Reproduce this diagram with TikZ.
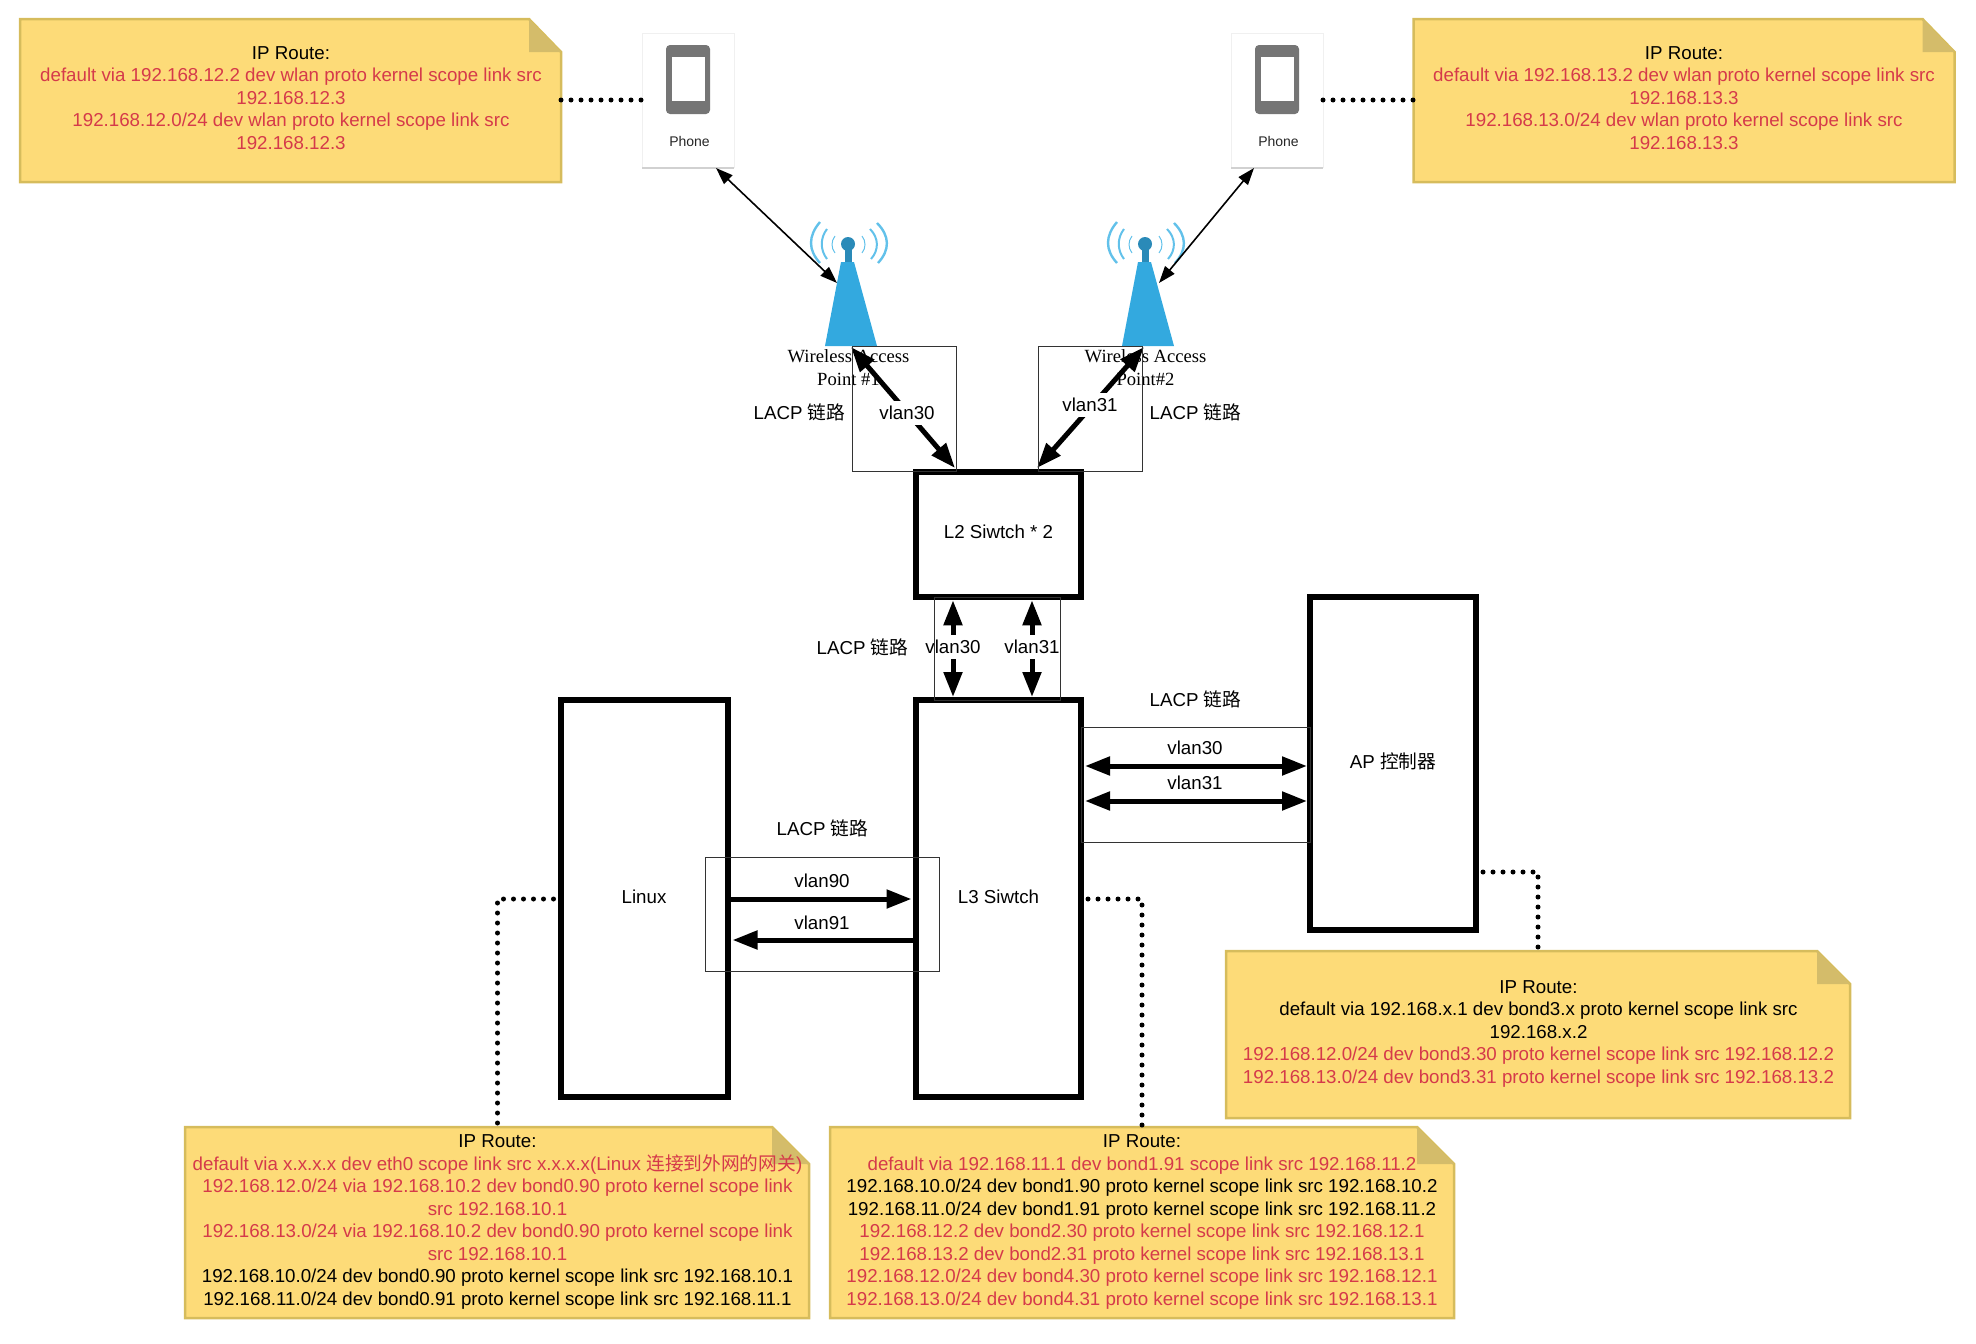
\documentclass[tikz,border=0pt]{standalone}
\usepackage{fontspec}
\setmainfont{Liberation Sans}
\newfontfamily\cjk{Noto Sans CJK SC}
\newfontfamily\serifl{Liberation Serif}
\usetikzlibrary{arrows.meta,calc,backgrounds}
\definecolor{notefill}{HTML}{FDDB78}
\definecolor{noteline}{HTML}{D6BC5C}
\definecolor{foldfill}{HTML}{D4BC6A}
\definecolor{notered}{HTML}{D53A4A}
\definecolor{towerblue}{HTML}{33A9DF}
\definecolor{towerdark}{HTML}{2A8AB8}
\definecolor{wavelight}{HTML}{62C1EA}
\definecolor{icongray}{HTML}{757575}
\newcommand{\rl}[1]{\textcolor{notered}{#1}}
\newcommand{\notebg}[3]{%
  \draw[line width=2.5pt,draw=noteline,fill=notefill,line join=miter]
    (#1.north west) -- ($(#1.north east)+(-#2,0)$) -- ($(#1.north east)+(0,#3)$)
    -- (#1.south east) -- (#1.south west) -- cycle;
  \fill[foldfill] ($(#1.north east)+(-#2,0)$) -- ($(#1.north east)+(-#2,#3)$) -- ($(#1.north east)+(0,#3)$) -- cycle;}
\newcommand{\phoneicon}[1]{%
  \draw[black!18,line width=1.4pt] ($(#1.south west)+(0,0.8)$) -- ($(#1.south east)+(0,0.8)$);
  \fill[icongray,rounded corners=4pt] ($(#1.center)+(-22,-55)$) rectangle ($(#1.center)+(22,14)$);
  \fill[white] ($(#1.center)+(-16,-43)$) rectangle ($(#1.center)+(17,1)$);}
\newcommand{\towerart}{%
  \fill[towerblue] (825,346) -- (841,262) -- (854,262) -- (877,346) -- cycle;
  \fill[towerdark] (845,262) -- (845,247) -- (852,247) -- (852,262) -- cycle;
  \fill[towerdark] (848,244) circle[radius=7];
  \draw[wavelight,line width=2.4pt] (820,222) .. controls (808,236) and (808,250) .. (820,263);
  \draw[wavelight,line width=2pt] (827,229) .. controls (820,238) and (820,250) .. (827,259);
  \draw[wavelight,line width=1pt] (835,236) .. controls (831,241) and (831,248) .. (835,253);
  \draw[wavelight,line width=2.4pt] (877,223) .. controls (890,236) and (890,250) .. (878,263);
  \draw[wavelight,line width=2pt] (870,229) .. controls (879,238) and (879,250) .. (871,259);
  \draw[wavelight,line width=1pt] (862,236) .. controls (866,241) and (866,248) .. (862,253);}
\tikzset{
  x=1pt,y=-1pt,
  every node/.style={inner sep=0pt,outer sep=0pt},
  txt/.style={font=\fontsize{18.72}{22.5}\selectfont,align=center},
  bigbox/.style={draw=black,line width=6pt,txt,line join=miter},
  thinbox/.style={draw=black!80,line width=1pt},
  notebox/.style={},
  notetext/.style={txt},
  phonebox/.style={draw=black!6,line width=1pt,fill=white,minimum width=92pt,minimum height=134pt},
  phonelabel/.style={font=\fontsize{14}{16}\selectfont,text=black!85},
  aplabel/.style={font=\serifl\fontsize{18.6}{22.7}\selectfont,align=center},
  vlanlabel/.style={txt,fill=white,minimum height=24pt},
  plainlabel/.style={txt},
  thickarrow/.style={line width=5pt,{Triangle[length=25pt,width=18pt]}-{Triangle[length=25pt,width=18pt]}},
  oneway/.style={line width=5pt,-{Triangle[length=25pt,width=18pt]}},
  thinarrow/.style={line width=1.6pt,{Triangle[length=17pt,width=12pt]}-{Triangle[length=17pt,width=12pt]}},
  dotline/.style={line width=5pt,line cap=round,dash pattern=on 0pt off 10pt},
  dotbox/.style={dotline,dash phase=3pt},
}
\begin{document}
\begin{tikzpicture}
\useasboundingbox (0,0) rectangle (1976,1344);

% notes
\node[notebox,minimum width=541pt,minimum height=163pt] (n1) at (290.5,100.5) {};
\notebg{n1}{32}{33}
\node[notetext] (n1t) at (291,98) {IP Route:\\ \rl{default via 192.168.12.2 dev wlan proto kernel scope link src}\\ \rl{192.168.12.3}\\ \rl{192.168.12.0/24 dev wlan proto kernel scope link src}\\ \rl{192.168.12.3}};
\node[notebox,minimum width=541pt,minimum height=163pt] (n2) at (1684,100.5) {};
\notebg{n2}{32}{33}
\node[notetext] (n2t) at (1684,98) {IP Route:\\ \rl{default via 192.168.13.2 dev wlan proto kernel scope link src}\\ \rl{192.168.13.3}\\ \rl{192.168.13.0/24 dev wlan proto kernel scope link src}\\ \rl{192.168.13.3}};
\node[notebox,minimum width=624pt,minimum height=191pt] (n3) at (497,1222.5) {};
\notebg{n3}{37}{37}
\node[notetext] (n3t) at (497.5,1222) {IP Route:\\ \rl{default via x.x.x.x dev eth0 scope link src x.x.x.x(Linux {\cjk 连接到外网的网关})}\\ \rl{192.168.12.0/24 via 192.168.10.2 dev bond0.90 proto kernel scope link}\\ \rl{src 192.168.10.1}\\ \rl{192.168.13.0/24 via 192.168.10.2 dev bond0.90 proto kernel scope link}\\ \rl{src 192.168.10.1}\\ 192.168.10.0/24 dev bond0.90 proto kernel scope link src 192.168.10.1\\ 192.168.11.0/24 dev bond0.91 proto kernel scope link src 192.168.11.1};
\node[notebox,minimum width=624pt,minimum height=191pt] (n4) at (1142,1222.5) {};
\notebg{n4}{37}{37}
\node[notetext] (n4t) at (1142,1222) {IP Route:\\ \rl{default via 192.168.11.1 dev bond1.91 scope link src 192.168.11.2}\\ 192.168.10.0/24 dev bond1.90 proto kernel scope link src 192.168.10.2\\ 192.168.11.0/24 dev bond1.91 proto kernel scope link src 192.168.11.2\\ \rl{192.168.12.2 dev bond2.30 proto kernel scope link src 192.168.12.1}\\ \rl{192.168.13.2 dev bond2.31 proto kernel scope link src 192.168.13.1}\\ \rl{192.168.12.0/24 dev bond4.30 proto kernel scope link src 192.168.12.1}\\ \rl{192.168.13.0/24 dev bond4.31 proto kernel scope link src 192.168.13.1}};
\node[notebox,minimum width=624pt,minimum height=167pt] (n5) at (1538,1034.5) {};
\notebg{n5}{33}{33}
\node[notetext] (n5t) at (1538.5,1033.8) {IP Route:\\ default via 192.168.x.1 dev bond3.x proto kernel scope link src\\ 192.168.x.2\\ \rl{192.168.12.0/24 dev bond3.30 proto kernel scope link src 192.168.12.2}\\ \rl{192.168.13.0/24 dev bond3.31 proto kernel scope link src 192.168.13.2}};

% phones
\node[phonebox] (phone1) at (688,100) {};
\phoneicon{phone1}
\node[phonelabel] (phone1t) at (689.5,141.5) {Phone};
\node[phonebox] (phone2) at (1277,100) {};
\phoneicon{phone2}
\node[phonelabel] (phone2t) at (1278.5,141.5) {Phone};

% towers
\towerart
\begin{scope}[shift={(297,0)}]\towerart\end{scope}
\node[aplabel] (ap1) at (848.5,367.3) {Wireless Access\\Point \#1};
\node[aplabel] (ap2) at (1145.5,367.3) {Wireless Access\\Point\#2};

% main boxes
\node[bigbox,minimum width=165pt,minimum height=125.5pt] (l2) at (998.5,534.5) {\raisebox{5pt}{L2 Siwtch * 2}};
\node[bigbox,minimum width=165pt,minimum height=397pt] (l3) at (998.5,898.5) {\raisebox{3.5pt}{L3 Siwtch}};
\node[bigbox,minimum width=167pt,minimum height=397pt] (linux) at (644,898.5) {\raisebox{3.5pt}{Linux}};
\node[bigbox,minimum width=166pt,minimum height=333pt] (apc) at (1393,763.5) {\raisebox{5pt}{AP {\cjk 控制器}}};

% connector end points
\coordinate (ph1s) at (716,168);
\coordinate (ap1n) at (837,283);
\coordinate (ph2s) at (1254,168);
\coordinate (ap2n) at (1159,283);
\coordinate (ap1f) at (851,347);
\coordinate (sw1a) at (955,468);
\coordinate (ap2f) at (1144,347);
\coordinate (sw1b) at (1037,468);
\coordinate (v30x) at (953,650);
\coordinate (v31x) at (1032,650);
\coordinate (ya) at (1195,766);
\coordinate (yb) at (1195,801);
\coordinate (yc) at (822,899);
\coordinate (yd) at (822,940);
\coordinate (dl) at (497.5,899);
\coordinate (dr) at (1142,899);
\coordinate (dp) at (1538,872);

% thin arrows
\draw[thinarrow] (ph1s) -- (ap1n);
\draw[thinarrow] (ph2s) -- (ap2n);

% thick arrows with their labels
\draw[thickarrow] (ap1f) -- (sw1a);
\node[vlanlabel] (lv1) at (907,413) {vlan30};
\draw[thickarrow] (ap2f) -- (sw1b);
\node[vlanlabel] (lv2) at (1090,405) {vlan31};
\draw[thickarrow,shorten <=3pt,shorten >=3pt] (l2.south -| v30x) -- (l3.north -| v30x);
\node[vlanlabel] (lv3) at (953,647) {vlan30};
\draw[thickarrow,shorten <=3pt,shorten >=3pt] (l2.south -| v31x) -- (l3.north -| v31x);
\node[vlanlabel] (lv4) at (1032,647) {vlan31};
\draw[thickarrow,shorten <=4pt,shorten >=3pt] (l3.east |- ya) -- (apc.west |- ya);
\node[plainlabel] (lv5) at (1195,748) {vlan30};
\draw[thickarrow,shorten <=4pt,shorten >=3pt] (l3.east |- yb) -- (apc.west |- yb);
\node[plainlabel] (lv6) at (1195,783) {vlan31};
\draw[oneway,shorten >=4.5pt] (linux.east |- yc) -- (l3.west |- yc);
\node[plainlabel] (lv7) at (822,881) {vlan90};
\draw[oneway,shorten >=5pt] (l3.west |- yd) -- (linux.east |- yd);
\node[plainlabel] (lv8) at (822,923) {vlan91};

% thin link rectangles
\node[thinbox,minimum width=104pt,minimum height=125pt] (lk1) at (904,408.5) {};
\node[thinbox,minimum width=104pt,minimum height=125pt] (lk2) at (1090,408.5) {};
\node[thinbox,minimum width=126pt,minimum height=103pt] (lk3) at (997,648.5) {};
\node[thinbox,minimum width=229pt,minimum height=115pt] (lk4) at (1195.5,784.5) {};
\node[thinbox,minimum width=234pt,minimum height=114pt] (lk5) at (822,914) {};

% LACP labels
\node[plainlabel] (lacp1) at (799.5,412) {LACP {\cjk 链路}};
\node[plainlabel] (lacp2) at (1195.5,412) {LACP {\cjk 链路}};
\node[plainlabel] (lacp3) at (862.5,647) {LACP {\cjk 链路}};
\node[plainlabel] (lacp4) at (1195.5,699) {LACP {\cjk 链路}};
\node[plainlabel] (lacp5) at (822.5,828) {LACP {\cjk 链路}};

% dotted connectors
\draw[dotline] (n1.east |- phone1.west) -- (phone1.west);
\draw[dotline] (phone2.east) -- (n2.west |- phone2.east);
\draw[dotbox] (linux.west |- dl) -- (dl) -- (dl |- n3.north);
\draw[dotbox] (l3.east |- dr) -- (dr) -- (dr |- n4.north);
\draw[dotbox] (apc.east |- dp) -- (dp) -- (dp |- n5.north);
\end{tikzpicture}
\end{document}
